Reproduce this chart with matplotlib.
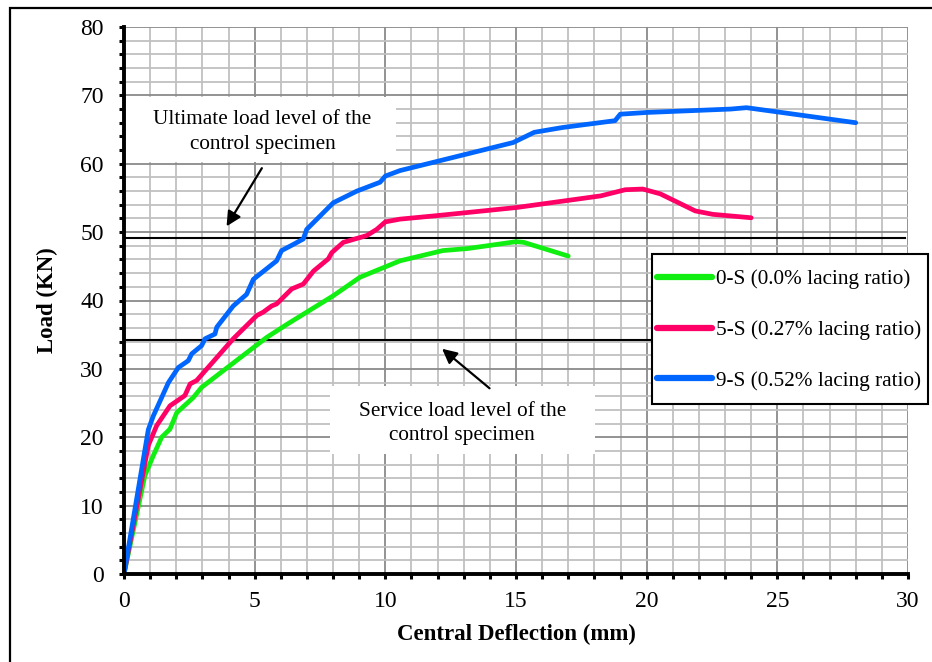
import matplotlib
matplotlib.use('Agg')
import matplotlib.pyplot as plt
from matplotlib.patches import Rectangle
from matplotlib.ticker import MultipleLocator

plt.rcParams['font.family'] = ['Liberation Serif', 'DejaVu Serif']

# 0-S (0.0% lacing ratio)
x_0s = [0, 0.8, 1.12, 1.44, 1.76, 2.02, 2.65, 2.97, 4.06, 5.46, 6.23, 8.01, 9.03,
        10.56, 12.2, 13.15, 15.0, 15.3, 17.0]
y_0s = [0, 14.4, 17.3, 20.0, 21.2, 23.6, 25.8, 27.3, 30.5, 34.6, 36.5, 40.7, 43.4,
        45.8, 47.3, 47.6, 48.6, 48.5, 46.5]

# 5-S (0.27% lacing ratio)
x_5s = [0, 0.93, 1.25, 1.76, 2.33, 2.53, 2.78, 4.18, 5.08, 5.33, 5.65, 5.84, 6.42,
        6.86, 7.25, 7.82, 7.95, 8.39, 9.29, 9.67, 10.0, 10.56, 11.94, 15.02, 18.24,
        19.18, 19.85, 20.52, 21.86, 22.53, 24.0]
y_5s = [0, 18.8, 21.7, 24.6, 26.1, 27.8, 28.3, 34.4, 37.8, 38.3, 39.2, 39.5, 41.7,
        42.4, 44.3, 46.1, 47.0, 48.5, 49.5, 50.4, 51.5, 51.9, 52.4, 53.6, 55.3,
        56.2, 56.3, 55.6, 53.1, 52.6, 52.1]

# 9-S (0.52% lacing ratio)
x_9s = [0, 0.93, 1.12, 1.70, 2.08, 2.46, 2.59, 2.97, 3.1, 3.48, 3.55, 4.18, 4.69,
        4.95, 5.84, 6.03, 6.48, 6.86, 6.99, 8.01, 8.91, 9.8, 10.0, 10.56, 14.89,
        15.7, 16.78, 18.79, 18.99, 20.0, 23.22, 23.82, 24.97, 28.0]
y_9s = [0, 21.1, 23.1, 28.0, 30.2, 31.2, 32.2, 33.4, 34.4, 35.1, 36.1, 39.2, 40.9,
        43.1, 45.8, 47.3, 48.2, 49.0, 50.4, 54.3, 56.0, 57.3, 58.2, 59.0, 63.1,
        64.6, 65.3, 66.3, 67.25, 67.5, 68.0, 68.2, 67.6, 66.0]

labels = ['0-S (0.0% lacing ratio)', '5-S (0.27% lacing ratio)', '9-S (0.52% lacing ratio)']
colors = ['#11ee11', '#ff0066', '#0066ff']

ultimate_load = 49.1
service_load = 34.15

fig = plt.figure(figsize=(9.32, 6.62), dpi=100)
ax = fig.add_axes([124/932, 88/662, 784/932, 547/662])

ax.set_xlim(0, 30)
ax.set_ylim(0, 80)
ax.xaxis.set_major_locator(MultipleLocator(5))
ax.xaxis.set_minor_locator(MultipleLocator(1))
ax.yaxis.set_major_locator(MultipleLocator(10))
ax.yaxis.set_minor_locator(MultipleLocator(2))
ax.set_axisbelow(True)
ax.grid(which='major', color='#8a8a8a', lw=1.3)
ax.grid(which='minor', color='#c0c0c0', lw=1.3)
ax.tick_params(which='both', direction='out', length=3.5, width=2.2, color='black',
               labelsize=17)
ax.tick_params(axis='x', pad=9)
ax.tick_params(axis='y', pad=11)

for s in ['top', 'right']:
    ax.spines[s].set_visible(False)
for s in ['left', 'bottom']:
    ax.spines[s].set_linewidth(2.8)
    ax.spines[s].set_zorder(5)

# reference levels
ax.plot([0, 29.9], [ultimate_load, ultimate_load], color='black', lw=1.5, zorder=3)
ax.plot([0, 29.9], [service_load, service_load], color='black', lw=1.5, zorder=3)

for xs, ys, c, lab in zip([x_0s, x_5s, x_9s], [y_0s, y_5s, y_9s], colors, labels):
    ax.plot(xs, ys, color=c, lw=3.4, label=lab, solid_joinstyle='round',
            solid_capstyle='round', zorder=4)

# annotation boxes
ax.add_patch(Rectangle((0.05, 60.2), 10.35, 9.6, facecolor='white', edgecolor='none', zorder=2.5))
ax.text(5.3, 64.6, 'Ultimate load level of the\ncontrol specimen', ha='center', va='center',
        fontsize=15.3, linespacing=1.4, zorder=6)
ax.annotate('', xy=(3.87, 50.5), xytext=(5.33, 59.7),
            arrowprops=dict(arrowstyle='-|>', color='black', lw=1.6, mutation_scale=22), zorder=6)

ax.add_patch(Rectangle((7.88, 17.5), 10.15, 10.0, facecolor='white', edgecolor='none', zorder=2.5))
ax.text(12.94, 22.0, 'Service load level of the\ncontrol specimen', ha='center', va='center',
        fontsize=15.3, linespacing=1.4, zorder=6)
ax.annotate('', xy=(12.09, 33.2), xytext=(14.07, 26.9),
            arrowprops=dict(arrowstyle='-|>', color='black', lw=1.6, mutation_scale=22), zorder=6)

# legend: frame drawn by hand, entries without frame
ax.add_patch(Rectangle((652/932, 1 - 404/662), 276/932, 150/662, transform=fig.transFigure,
                       facecolor='white', edgecolor='black', lw=1.5, clip_on=False, zorder=6.5))
leg = ax.legend(loc='center left', bbox_to_anchor=(657/932, 1 - 330/662),
                bbox_transform=fig.transFigure, fontsize=15.3, frameon=False,
                handlelength=2.6, handletextpad=0.2, labelspacing=1.45,
                borderpad=0, borderaxespad=0)
leg.set_zorder(7)
for line in leg.get_lines():
    line.set_linewidth(4.5)

ax.set_xlabel('Central Deflection (mm)', fontsize=16.5, fontweight='bold', labelpad=8)
ax.set_ylabel('Load (KN)', fontsize=16.5, fontweight='bold', labelpad=16)

# outer frame (cut off at right and bottom)
fig.add_artist(Rectangle((10/932, -0.1), 1.2, 1.1 - 8/662, transform=fig.transFigure,
                         fill=False, edgecolor='black', lw=1.6, clip_on=False))

fig.savefig('out.png', dpi=100)
